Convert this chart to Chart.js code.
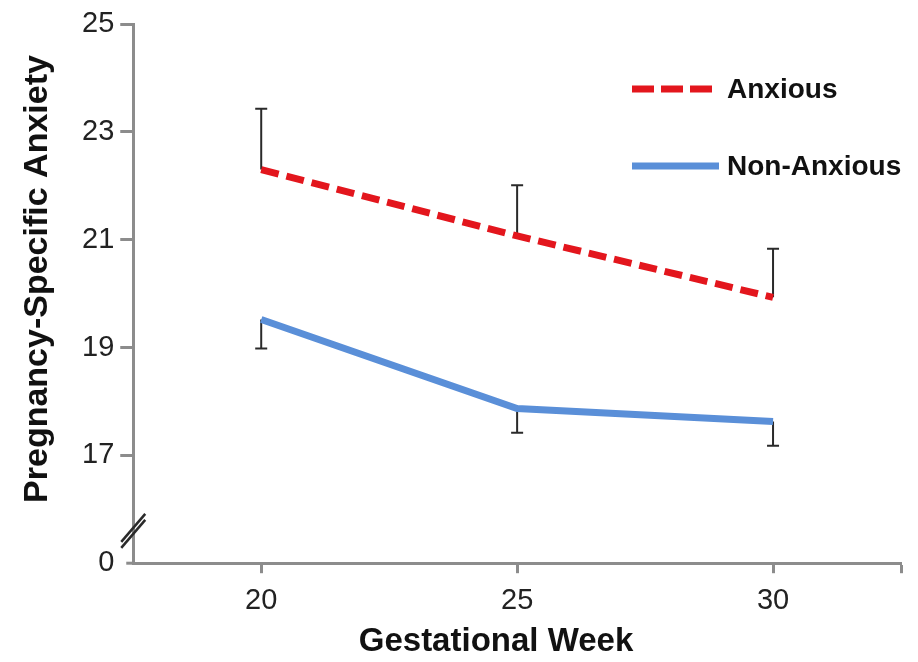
<!DOCTYPE html>
<html lang="en">
<head>
    <meta charset="UTF-8">
    <title>Pregnancy-Specific Anxiety by Gestational Week</title>
    <script src="https://cdn.jsdelivr.net/npm/chart.js"></script>
    <style>
        body {
            margin: 0;
            background: #fff;
        }
        canvas {
            display: block;
        }
    </style>
</head>
<body>

<canvas id="anxietyChart" width="918" height="662"></canvas>

<script>
    // gestational weeks and group means
    const weeks = [20, 25, 30];
    const anxiousMeans = [22.3, 21.07, 19.93];
    const anxiousErr = [1.13, 0.94, 0.9];        // drawn upward
    const nonAnxiousMeans = [19.52, 17.87, 17.63];
    const nonAnxiousErr = [0.54, 0.45, 0.45];     // drawn downward

    // y axis is broken: the bottom value (15) is labelled as 0
    const yTicks = [15, 17, 19, 21, 23, 25];
    const xTicks = [20, 25, 30, 32.5];

    const xTitle = 'Gestational Week';
    const yTitle = 'Pregnancy-Specific Anxiety';

    const fontFamily = "'Liberation Sans', Arial, sans-serif";
    const axisGray = '#8c8c8c';

    function points(means) {
        return weeks.map((w, i) => ({ x: w, y: means[i] }));
    }

    // one-sided error bars, dir = 1 up, -1 down
    const errorBars = {
        id: 'errorBars',
        beforeDatasetsDraw(chart) {
            const ctx = chart.ctx;
            const xs = chart.scales.x, ys = chart.scales.y;
            ctx.save();
            ctx.strokeStyle = '#2a2a2a';
            ctx.lineWidth = 2;
            chart.data.datasets.forEach(ds => {
                ds.data.forEach((p, i) => {
                    const x = xs.getPixelForValue(p.x);
                    const y0 = ys.getPixelForValue(p.y);
                    const y1 = ys.getPixelForValue(p.y + ds.errDir * ds.err[i]);
                    ctx.beginPath();
                    ctx.moveTo(x, y0);
                    ctx.lineTo(x, y1);
                    ctx.moveTo(x - 6, y1);
                    ctx.lineTo(x + 6, y1);
                    ctx.stroke();
                });
            });
            ctx.restore();
        }
    };

    // "//" marks on the y axis where it is broken, plus the short
    // stub of the x axis poking out left of the y axis
    const axisBreak = {
        id: 'axisBreak',
        afterDraw(chart) {
            const ctx = chart.ctx;
            const area = chart.chartArea;
            const x = area.left;
            const y = chart.scales.y.getPixelForValue(15.6);
            ctx.save();
            ctx.strokeStyle = axisGray;
            ctx.lineWidth = 3;
            ctx.beginPath();
            ctx.moveTo(x - 7, area.bottom);
            ctx.lineTo(x, area.bottom);
            ctx.stroke();
            ctx.strokeStyle = '#2a2a2a';
            ctx.lineWidth = 2.5;
            [-3, 3].forEach(d => {
                ctx.beginPath();
                ctx.moveTo(x - 12, y + 14 + d);
                ctx.lineTo(x + 12, y - 14 + d);
                ctx.stroke();
            });
            ctx.restore();
        }
    };

    // axis titles, set a little off the plot centre as in the figure
    const axisTitles = {
        id: 'axisTitles',
        afterDraw(chart) {
            const ctx = chart.ctx;
            ctx.save();
            ctx.fillStyle = '#111';
            ctx.font = 'bold 33px ' + fontFamily;
            ctx.textAlign = 'center';
            ctx.textBaseline = 'middle';
            ctx.fillText(xTitle, 496, 642);
            ctx.translate(38, 279);
            ctx.rotate(-Math.PI / 2);
            ctx.font = 'bold 34px ' + fontFamily;
            ctx.fillText(yTitle, 0, 0);
            ctx.restore();
        }
    };

    // legend drawn in the upper right of the plot
    const sideLegend = {
        id: 'sideLegend',
        afterDraw(chart) {
            const ctx = chart.ctx;
            const rows = [[89, 712], [166, 719]];
            ctx.save();
            ctx.font = 'bold 28px ' + fontFamily;
            ctx.fillStyle = '#111';
            ctx.textBaseline = 'middle';
            chart.data.datasets.forEach((ds, i) => {
                const [y, end] = rows[i];
                ctx.beginPath();
                ctx.strokeStyle = ds.borderColor;
                ctx.lineWidth = ds.borderWidth;
                ctx.setLineDash(ds.legendDash || []);
                ctx.moveTo(632, y);
                ctx.lineTo(end, y);
                ctx.stroke();
                ctx.setLineDash([]);
                ctx.fillText(ds.label, 727, y + 1);
            });
            ctx.restore();
        }
    };

    const ctx = document.getElementById('anxietyChart').getContext('2d');
    const chart = new Chart(ctx, {
        type: 'line',
        data: {
            datasets: [
                {
                    label: 'Anxious',
                    data: points(anxiousMeans),
                    err: anxiousErr,
                    errDir: 1,
                    borderColor: '#e3161d',
                    borderWidth: 7,
                    borderDash: [18, 8],
                    legendDash: [22, 7],
                    pointRadius: 0,
                    tension: 0,
                    fill: false
                },
                {
                    label: 'Non-Anxious',
                    data: points(nonAnxiousMeans),
                    err: nonAnxiousErr,
                    errDir: -1,
                    borderColor: '#5a8fd8',
                    borderWidth: 7,
                    pointRadius: 0,
                    tension: 0,
                    fill: false
                }
            ]
        },
        options: {
            responsive: false,
            animation: false,
            layout: {
                padding: { top: 24, right: 17, bottom: 34, left: 76 }
            },
            scales: {
                x: {
                    type: 'linear',
                    min: 17.5,
                    max: 32.5,
                    afterBuildTicks: scale => {
                        scale.ticks = xTicks.map(v => ({ value: v }));
                    },
                    ticks: {
                        padding: 10,
                        color: '#222',
                        font: { family: fontFamily, size: 29 },
                        callback: v => (v === 32.5 ? '' : String(v)),
                        maxRotation: 0
                    },
                    grid: {
                        drawOnChartArea: false,
                        tickLength: 10,
                        tickWidth: 3,
                        color: axisGray
                    },
                    border: { color: axisGray, width: 3 }
                },
                y: {
                    min: 15,
                    max: 25,
                    afterBuildTicks: scale => {
                        scale.ticks = yTicks.map(v => ({ value: v }));
                    },
                    ticks: {
                        padding: 6,
                        color: '#222',
                        font: { family: fontFamily, size: 29 },
                        callback: v => (v === 15 ? '0' : String(v))
                    },
                    grid: {
                        drawOnChartArea: false,
                        tickLength: 13,
                        tickWidth: 3,
                        color: c => (c.tick && c.tick.value === 15 ? 'rgba(0,0,0,0)' : axisGray)
                    },
                    border: { color: axisGray, width: 3 }
                }
            },
            plugins: {
                legend: { display: false },
                tooltip: { enabled: false }
            }
        },
        plugins: [errorBars, axisBreak, axisTitles, sideLegend]
    });
</script>

</body>
</html>
